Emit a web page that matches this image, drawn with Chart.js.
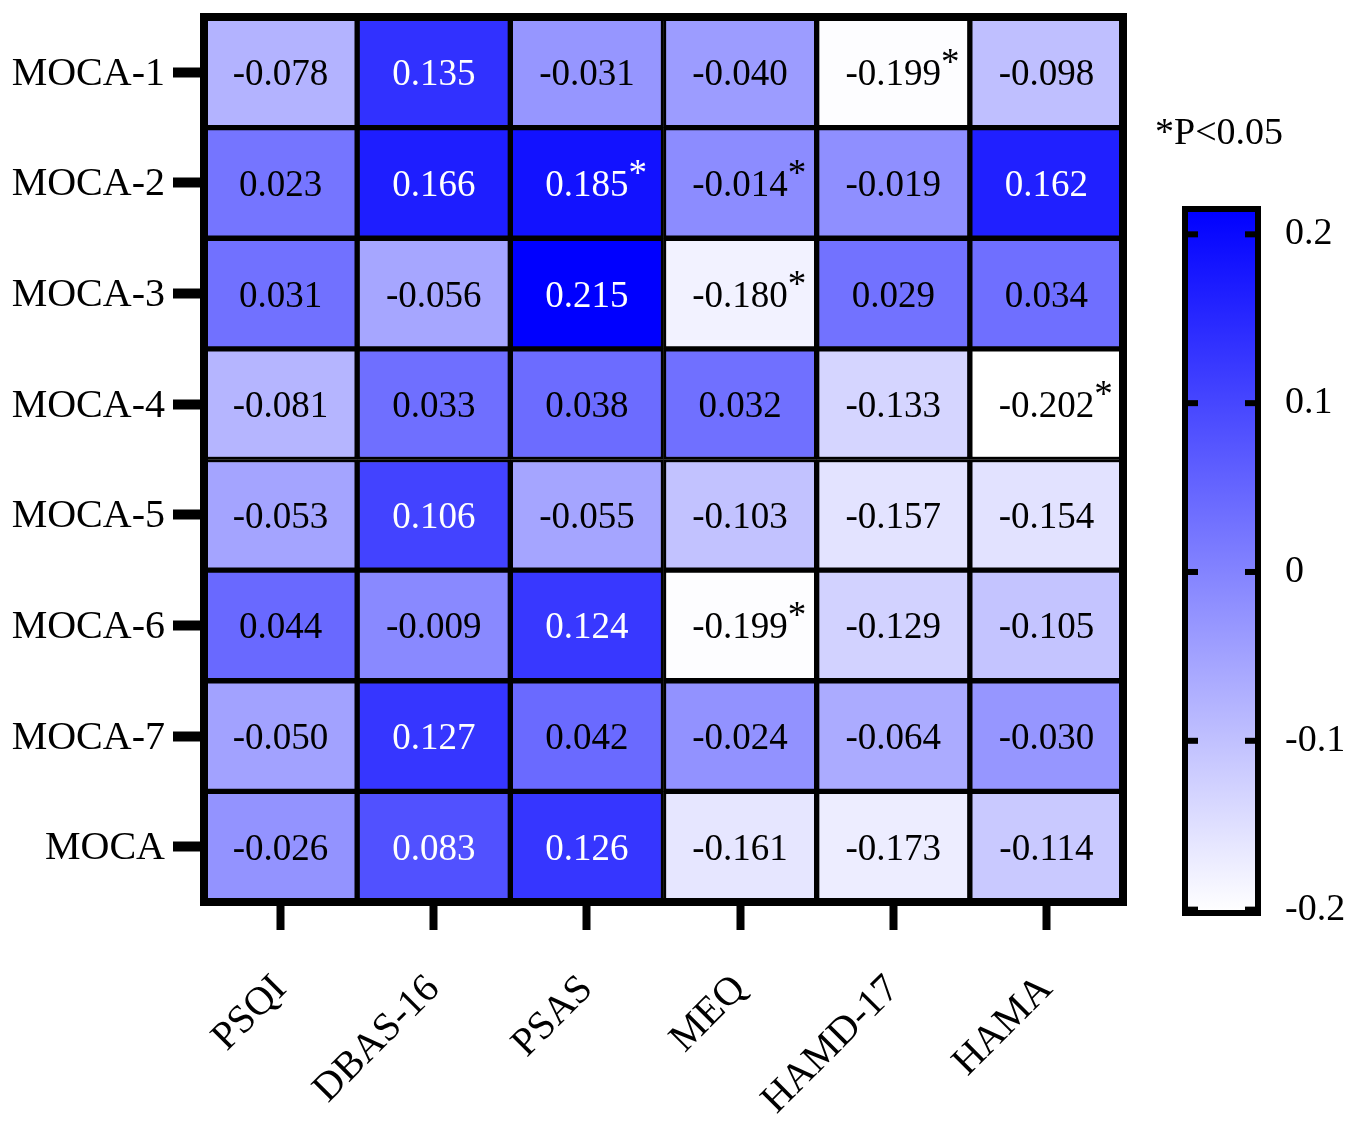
<!DOCTYPE html>
<html>
<head>
<meta charset="utf-8">
<script src="https://cdn.jsdelivr.net/npm/chart.js@4.4.1/dist/chart.umd.min.js"></script>
<style>
  body { margin: 0; background: #fff; }
  #wrap { position: relative; width: 1358px; height: 1126px; }
  #heat { position: absolute; left: 0; top: 0; }
  #bar { position: absolute; left: 1140px; top: 150px; }
  #note { position: absolute; left: 1155px; top: 112px; font: 38px "Liberation Serif"; line-height: 38px; color: #000; }
</style>
</head>
<body>
<div id="wrap">
  <canvas id="heat" width="1358" height="1126"></canvas>
  <canvas id="bar" width="218" height="800"></canvas>
  <div id="note">*P&lt;0.05</div>
</div>
<script>
// data
const rowLabels = ["MOCA-1", "MOCA-2", "MOCA-3", "MOCA-4", "MOCA-5", "MOCA-6", "MOCA-7", "MOCA"];
const colLabels = ["PSQI", "DBAS-16", "PSAS", "MEQ", "HAMD-17", "HAMA"];

const moca1 = [-0.078, 0.135, -0.031, -0.040, -0.199, -0.098];
const moca2 = [0.023, 0.166, 0.185, -0.014, -0.019, 0.162];
const moca3 = [0.031, -0.056, 0.215, -0.180, 0.029, 0.034];
const moca4 = [-0.081, 0.033, 0.038, 0.032, -0.133, -0.202];
const moca5 = [-0.053, 0.106, -0.055, -0.103, -0.157, -0.154];
const moca6 = [0.044, -0.009, 0.124, -0.199, -0.129, -0.105];
const moca7 = [-0.050, 0.127, 0.042, -0.024, -0.064, -0.030];
const mocaTotal = [-0.026, 0.083, 0.126, -0.161, -0.173, -0.114];

// cells with P<0.05
const sigCells = ["MOCA-1|HAMD-17", "MOCA-2|PSAS", "MOCA-2|MEQ", "MOCA-3|MEQ", "MOCA-4|HAMA", "MOCA-6|MEQ"];

const colorMin = -0.202;
const colorMax = 0.215;
const barTicks = [0.2, 0.1, 0, -0.1, -0.2];

const rows = [moca1, moca2, moca3, moca4, moca5, moca6, moca7, mocaTotal];
const serif = "Liberation Serif";

function cellColor(v) {
    let t = (v - colorMin) / (colorMax - colorMin);
    t = Math.max(0, Math.min(1, t));
    const c = Math.round(255 * (1 - t));
    return `rgb(${c},${c},255)`;
}

function noPad(s) {
    s.paddingTop = 0;
    s.paddingBottom = 0;
}

// Heatmap
const heatData = {
    labels: colLabels,
    datasets: rows.map((vals, r) => ({
        label: rowLabels[r],
        data: colLabels.map(() => [r, r + 1]),
        values: vals,
        backgroundColor: vals.map(cellColor),
        borderColor: '#000',
        borderWidth: 3,
        borderSkipped: false,
        grouped: false,
        barPercentage: 1,
        categoryPercentage: 1
    }))
};

const cellText = {
    id: 'cellText',
    afterDatasetsDraw(chart) {
        const ctx = chart.ctx;
        const a = chart.chartArea;
        ctx.save();
        ctx.lineWidth = 8;
        ctx.strokeStyle = '#000';
        ctx.strokeRect(a.left, a.top, a.right - a.left, a.bottom - a.top);
        chart.data.datasets.forEach((ds, r) => {
            chart.getDatasetMeta(r).data.forEach((bar, c) => {
                const v = ds.values[c];
                const txt = v.toFixed(3);
                const cy = (bar.y + bar.base) / 2;
                ctx.font = `37px "${serif}"`;
                ctx.textAlign = 'center';
                ctx.textBaseline = 'alphabetic';
                ctx.fillStyle = v > 0.06 ? '#fff' : '#000';
                ctx.fillText(txt, bar.x, cy + 13);
                if (sigCells.includes(rowLabels[r] + '|' + colLabels[c])) {
                    const w = ctx.measureText(txt).width;
                    ctx.font = `37px "${serif}"`;
                    ctx.textAlign = 'left';
                    ctx.fillText('*', bar.x + w / 2, cy + 2);
                }
            });
        });
        ctx.restore();
    }
};

new Chart(document.getElementById('heat'), {
    type: 'bar',
    data: heatData,
    options: {
        responsive: false,
        animation: false,
        layout: { padding: { left: 0, top: 17, right: 235, bottom: 0 } },
        plugins: { legend: { display: false }, tooltip: { enabled: false } },
        scales: {
            x: {
                type: 'category',
                offset: true,
                grid: { offset: false, drawOnChartArea: false, drawTicks: true, tickLength: 28, tickWidth: 8, tickColor: '#000' },
                border: { display: false },
                ticks: { font: { family: serif, size: 40 }, color: '#000', minRotation: 45, maxRotation: 45, autoSkip: false, padding: 36 },
                afterFit: (s) => { s.height = 224; }
            },
            y: {
                type: 'linear',
                min: 0,
                max: 8,
                reverse: true,
                afterBuildTicks: (s) => { s.ticks = rowLabels.map((_, i) => ({ value: i + 0.5 })); },
                grid: { drawOnChartArea: false, drawTicks: true, tickLength: 31, tickWidth: 10, tickColor: '#000' },
                border: { display: false },
                ticks: {
                    font: { family: serif, size: 40 },
                    color: '#000',
                    padding: 8,
                    labelOffset: 2,
                    autoSkip: false,
                    callback: (v) => rowLabels[Math.floor(v)]
                },
                afterFit: (s) => { s.width = 204; noPad(s); }
            }
        }
    },
    plugins: [cellText]
});

// Colour bar
const barFrame = {
    id: 'barFrame',
    afterDatasetsDraw(chart) {
        const ctx = chart.ctx;
        const a = chart.chartArea;
        const y = chart.scales.y;
        ctx.save();
        ctx.fillStyle = '#000';
        barTicks.forEach((t) => {
            const py = y.getPixelForValue(t);
            ctx.fillRect(a.left, py - 3, 13, 6);
            ctx.fillRect(a.right - 13, py - 3, 13, 6);
        });
        ctx.lineWidth = 6;
        ctx.strokeStyle = '#000';
        ctx.strokeRect(a.left, a.top, a.right - a.left, a.bottom - a.top);
        ctx.restore();
    }
};

new Chart(document.getElementById('bar'), {
    type: 'bar',
    data: {
        labels: [''],
        datasets: [{
            data: [[colorMin, colorMax]],
            borderWidth: 0,
            barPercentage: 1,
            categoryPercentage: 1,
            backgroundColor: (c) => {
                const y = c.chart.scales.y;
                const a = c.chart.chartArea;
                if (!a || !y) return cellColor(0);
                const y0 = y.getPixelForValue(colorMin);
                const y1 = y.getPixelForValue(colorMax);
                if (!isFinite(y0) || !isFinite(y1)) return cellColor(0);
                const g = c.chart.ctx.createLinearGradient(0, y0, 0, y1);
                g.addColorStop(0, cellColor(colorMin));
                g.addColorStop(1, cellColor(colorMax));
                return g;
            }
        }]
    },
    options: {
        responsive: false,
        animation: false,
        layout: { padding: { left: 45, top: 59, right: 0, bottom: 37 } },
        plugins: { legend: { display: false }, tooltip: { enabled: false } },
        scales: {
            x: { display: false },
            y: {
                position: 'right',
                min: colorMin,
                max: colorMax,
                afterBuildTicks: (s) => { s.ticks = barTicks.map((v) => ({ value: v })); },
                grid: { display: false, drawTicks: false },
                border: { display: false },
                ticks: {
                    font: { family: serif, size: 38 },
                    color: '#000',
                    padding: 27,
                    autoSkip: false,
                    callback: (v) => String(Math.round(v * 10) / 10)
                },
                afterFit: (s) => { s.width = 100; noPad(s); }
            }
        }
    },
    plugins: [barFrame]
});
</script>
</body>
</html>
